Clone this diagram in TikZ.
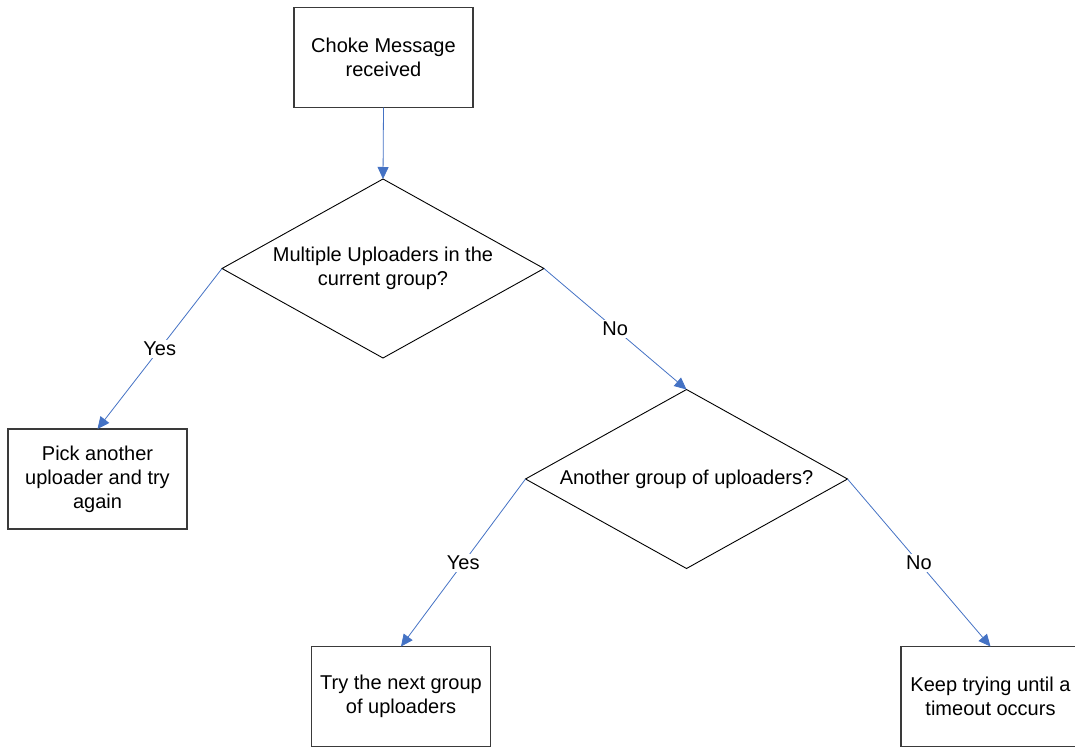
\documentclass[tikz,border=0pt]{standalone}
\usepackage{fontspec}
\setmainfont{Liberation Sans}
\usetikzlibrary{shapes.geometric,arrows.meta}
\definecolor{flowblue}{HTML}{4472C4}
\definecolor{edgegray}{HTML}{3A3A3A}
\begin{document}
\begin{tikzpicture}[x=1pt,y=-1pt,
  font=\fontsize{20}{24}\selectfont,
  procbox/.style={draw=edgegray,line width=1.1pt,minimum width=179pt,minimum height=100pt,
    inner sep=0pt,outer sep=0pt,align=center},
  decision/.style={draw=black,line width=0.9pt,shape=diamond,minimum width=322pt,
    minimum height=179pt,inner sep=0pt,outer sep=0pt},
  flow/.style={draw=flowblue,line width=0.8pt,-{Triangle[length=12pt,width=11pt]}},
  lbl/.style={fill=white,inner sep=2pt,text=black}]
\useasboundingbox (0,0) rectangle (1075,747);

% process boxes
\node[procbox] (start) at (383.5,57.5) {Choke Message\\received};
\node[procbox] (pick) at (97.5,479) {Pick another\\uploader and try\\again};
\node[procbox] (next) at (401,696.5) {Try the next group\\of uploaders};
% the last box runs past the right margin
\begin{scope}
  \clip (0,0) rectangle (1075,747);
  \node[procbox,minimum width=200pt] (wait) at (1001,696.5) {};
\end{scope}
\node[align=center] (waittext) at (990.5,696.5) {Keep trying until a\\timeout occurs};

% decisions
\node[decision] (multi) at (383,268.5) {};
\node[align=center] (multitext) at (multi.center) {Multiple Uploaders in the\\current group?};
\node[decision] (other) at (686.5,479) {};
\node[align=center] (othertext) at (other.center) {Another group of uploaders?};

% connectors
\draw[flow] (start.south) -- (multi.north);
\draw[flow] (multi.west) -- node[lbl] {Yes} (pick.north);
\draw[flow] (multi.east) -- node[lbl] {No} (other.north);
\draw[flow] (other.west) -- node[lbl] {Yes} (next.north);
\draw[flow] (other.east) -- node[lbl] {No} (waittext.north |- wait.north);
\end{tikzpicture}
\end{document}
